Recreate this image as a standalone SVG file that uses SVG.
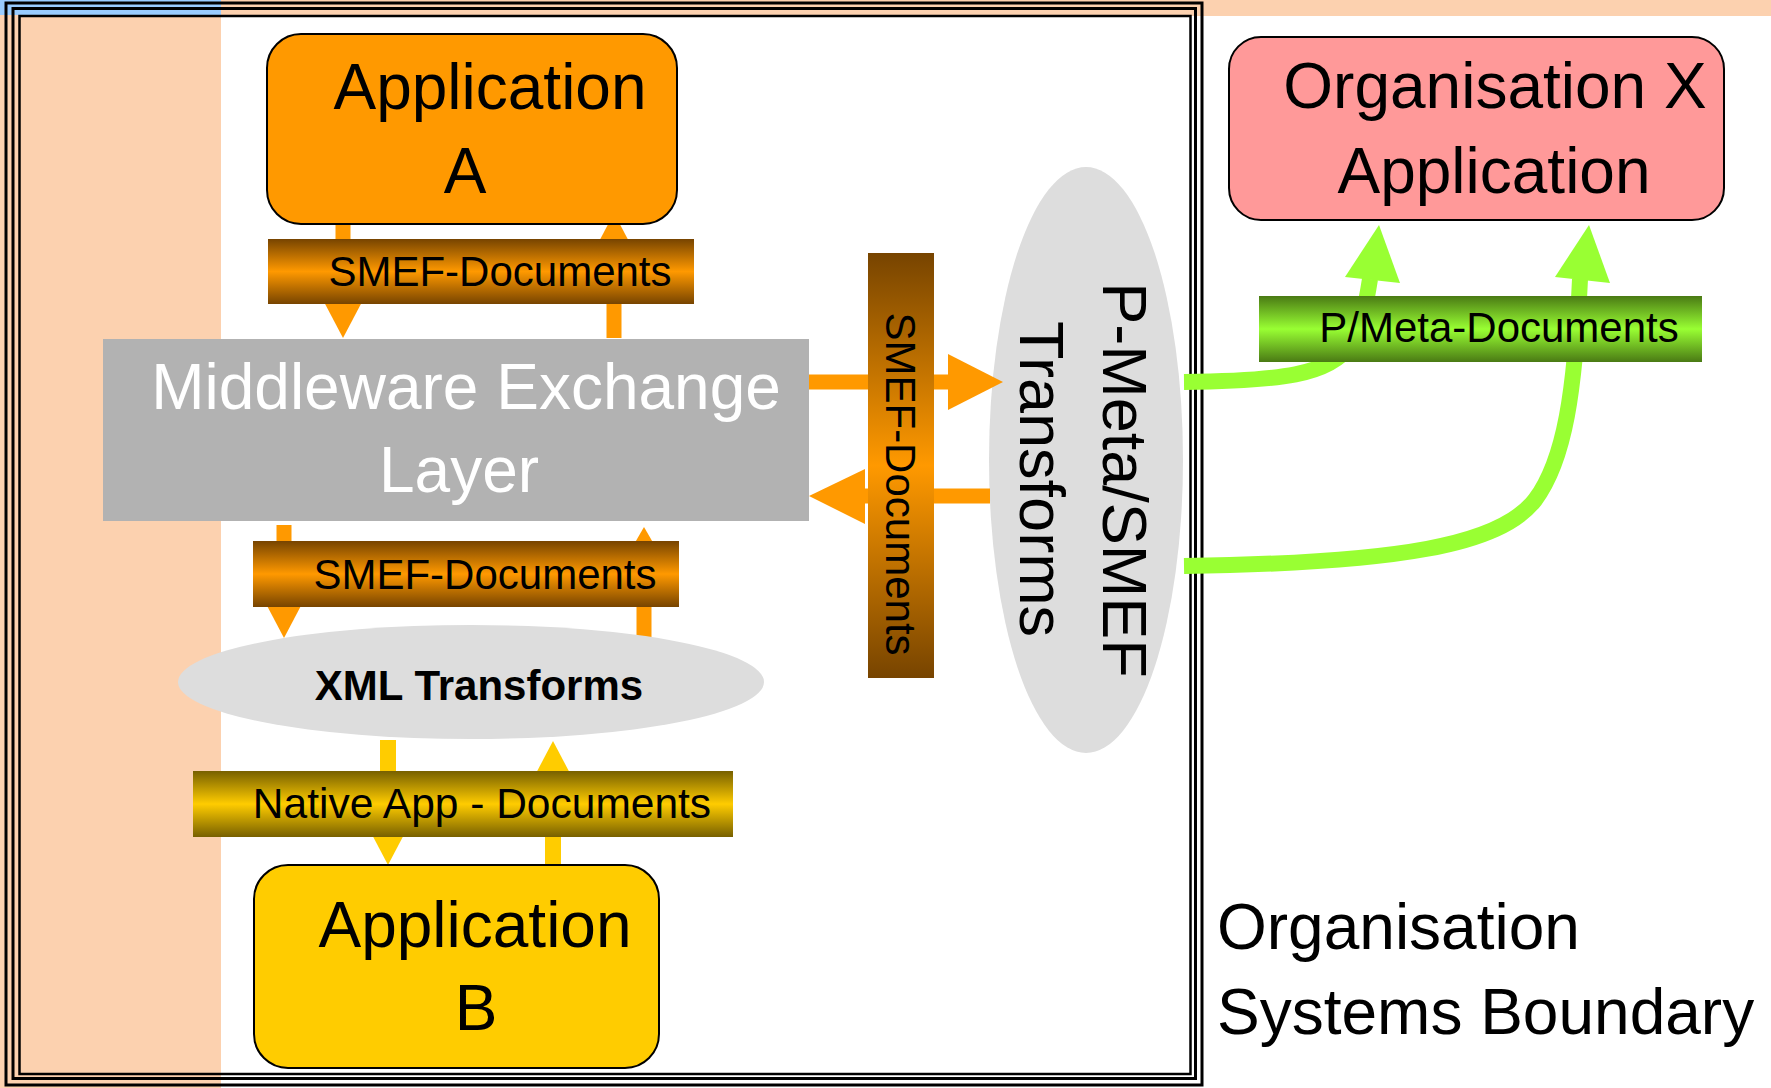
<svg xmlns="http://www.w3.org/2000/svg" width="1771" height="1088" viewBox="0 0 1771 1088">
<style>
text{font-family:"Liberation Sans",Arial,sans-serif;fill:#000}
.big{font-size:64px}
.lbl{font-size:42px}
.frame{fill:none;stroke:#000}
.ao{fill:#FF9900}
.ay{fill:#FFCC00}
.so{stroke:#FF9900;stroke-width:15;fill:none}
.sy{stroke:#FFCC00;stroke-width:16;fill:none}
.sg{stroke:#99FF33;stroke-width:16;fill:none}
.ag{fill:#99FF33}
.box{stroke:#000;stroke-width:2}
</style>
<defs>
<linearGradient id="gOr" x1="0" y1="0" x2="0" y2="1">
<stop offset="0" stop-color="#774400"/><stop offset="0.5" stop-color="#FF9900"/><stop offset="1" stop-color="#774400"/>
</linearGradient>
<linearGradient id="gYe" x1="0" y1="0" x2="0" y2="1">
<stop offset="0" stop-color="#776000"/><stop offset="0.5" stop-color="#FFCC00"/><stop offset="1" stop-color="#776000"/>
</linearGradient>
<linearGradient id="gGr" x1="0" y1="0" x2="0" y2="1">
<stop offset="0" stop-color="#4A7A14"/><stop offset="0.5" stop-color="#99FF33"/><stop offset="1" stop-color="#4A7A14"/>
</linearGradient>
</defs>
<g id="background">
<rect x="0" y="0" width="1771" height="1088" fill="#FFFFFF"/>
<rect x="0" y="0" width="1771" height="16" fill="#FCD1AF"/>
<rect x="0" y="0" width="221" height="1088" fill="#FCD1AF"/>
<rect x="0" y="0" width="221" height="15" fill="#99CCFF"/>
</g>
<g id="boundary">
<rect class="frame" x="6" y="3" width="1196" height="1082" stroke-width="3"/>
<rect class="frame" x="13" y="8.5" width="1182.5" height="1070" stroke-width="3"/>
<rect class="frame" x="19.5" y="16" width="1171" height="1058" stroke-width="2.5"/>
<text class="big" x="1217" y="949">Organisation</text>
<text class="big" x="1217" y="1034">Systems Boundary</text>
</g>
<g id="pmeta-transforms">
<ellipse cx="1086" cy="460" rx="97" ry="293" fill="#DDDDDD"/>
<text font-size="63" transform="translate(1103,480) rotate(90)" text-anchor="middle">P-Meta/SMEF</text>
<text font-size="63" transform="translate(1020,479) rotate(90)" text-anchor="middle">Transforms</text>
</g>
<g id="connectors">
<line class="so" x1="343" y1="224" x2="343" y2="302"/>
<polygon class="ao" points="323,300 363,300 343,338"/>
<line class="so" x1="614" y1="338" x2="614" y2="249"/>
<polygon class="ao" points="594,251 634,251 614,213"/>
<line class="so" x1="284" y1="525" x2="284" y2="602"/>
<polygon class="ao" points="264,600 304,600 284,638"/>
<line class="so" x1="644" y1="640" x2="644" y2="563"/>
<polygon class="ao" points="622,565 666,565 644,527"/>
<line class="sy" x1="388" y1="740" x2="388" y2="829"/>
<polygon class="ay" points="368,827 408,827 388,865"/>
<line class="sy" x1="553" y1="866" x2="553" y2="777"/>
<polygon class="ay" points="533,779 573,779 553,741"/>
<line class="so" x1="809" y1="382" x2="950" y2="382" stroke-width="16"/>
<polygon class="ao" points="948,354 948,410 1003,382"/>
<line class="so" x1="990" y1="496" x2="863" y2="496" stroke-width="16"/>
<polygon class="ao" points="865,469 865,524 809,496"/>
<path class="sg" d="M1184,382 C1280,381 1330,375 1350,345 C1362,325 1366,305 1370,279"/>
<polygon class="ag" points="1379,225 1345,277 1400,283"/>
<path class="sg" d="M1184,566 C1400,563 1500,545 1535,500 C1565,460 1575,390 1580,279"/>
<polygon class="ag" points="1589,225 1555,277 1610,283"/>
</g>
<g id="app-a">
<rect class="box" x="267" y="34" width="410" height="190" rx="34" fill="#FF9900"/>
<text class="big" x="490" y="109" text-anchor="middle">Application</text>
<text class="big" x="465" y="193" text-anchor="middle">A</text>
</g>
<g id="smef-docs-top">
<rect x="268" y="239" width="426" height="65" fill="url(#gOr)"/>
<text class="lbl" x="500" y="286" text-anchor="middle">SMEF-Documents</text>
</g>
<g id="middleware">
<rect x="103" y="339" width="706" height="182" fill="#B2B2B2"/>
<text class="big" x="466" y="409" text-anchor="middle" style="fill:#FFFFFF">Middleware Exchange</text>
<text class="big" x="459" y="492" text-anchor="middle" style="fill:#FFFFFF">Layer</text>
</g>
<g id="smef-docs-mid">
<rect x="253" y="541" width="426" height="66" fill="url(#gOr)"/>
<text class="lbl" x="485" y="589" text-anchor="middle">SMEF-Documents</text>
</g>
<g id="xml-transforms">
<ellipse cx="471" cy="682" rx="293" ry="57" fill="#DDDDDD"/>
<text x="479" y="700" text-anchor="middle" font-size="42" font-weight="bold">XML Transforms</text>
</g>
<g id="native-docs">
<rect x="193" y="771" width="540" height="66" fill="url(#gYe)"/>
<text x="482" y="818" text-anchor="middle" font-size="42.5">Native App - Documents</text>
</g>
<g id="app-b">
<rect class="box" x="254" y="865" width="405" height="203" rx="34" fill="#FFCC00"/>
<text class="big" x="475" y="947" text-anchor="middle">Application</text>
<text class="big" x="476" y="1030" text-anchor="middle">B</text>
</g>
<g id="smef-docs-vertical">
<rect x="868" y="253" width="66" height="425" fill="url(#gOr)"/>
<text class="lbl" transform="translate(886,484) rotate(90)" text-anchor="middle">SMEF-Documents</text>
</g>
<g id="pmeta-docs">
<rect x="1259" y="296" width="443" height="66" fill="url(#gGr)"/>
<text class="lbl" x="1499" y="342" text-anchor="middle">P/Meta-Documents</text>
</g>
<g id="org-x-app">
<rect class="box" x="1229" y="37" width="495" height="183" rx="32" fill="#FF9999"/>
<text class="big" x="1495" y="108" text-anchor="middle">Organisation X</text>
<text class="big" x="1494" y="193" text-anchor="middle">Application</text>
</g>
</svg>
